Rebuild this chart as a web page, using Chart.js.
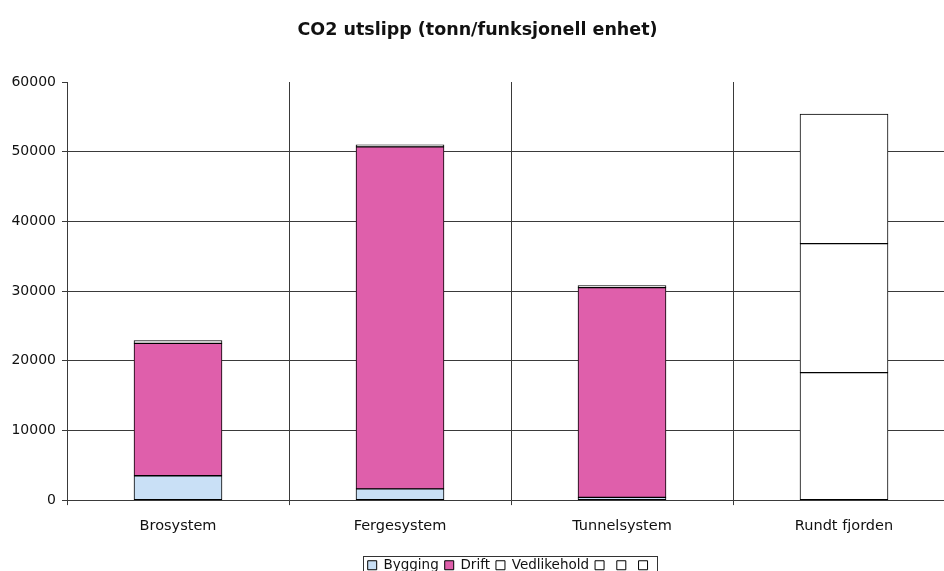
<!DOCTYPE html>
<html>
<head>
<meta charset="utf-8">
<script src="https://cdn.jsdelivr.net/npm/chart.js@4/dist/chart.umd.min.js"></script>
<style>
  html, body { margin: 0; padding: 0; background: #fff; overflow: hidden; width: 944px; height: 571px; }
  #wrap { position: absolute; left: 0; top: 0; width: 966px; height: 582px; }
</style>
</head>
<body>
<div id="wrap"><canvas id="c" width="966" height="582"></canvas></div>
<script>
// Categories and stacked series (tonn CO2 per funksjonell enhet)
const categories = ['Brosystem', 'Fergesystem', 'Tunnelsystem', 'Rundt fjorden'];
const bygging     = [3500, 1600, 400, null];
const drift       = [19000, 49100, 30100, null];
const vedlikehold = [400, 300, 300, null];
const rundt1      = [null, null, null, 18300];
const rundt2      = [null, null, null, 18500];
const rundt3      = [null, null, null, 18600];
const yTicks = [0, 10000, 20000, 30000, 40000, 50000, 60000];

const FONT = '"DejaVu Sans", "Liberation Sans", Arial, sans-serif';
const LINE = '#3a3a3a';

function series(label, data, fill) {
  return {
    label, data,
    backgroundColor: fill,
    borderColor: '#000',
    borderWidth: 1,
    borderSkipped: false,
    barThickness: 88
  };
}

// White page behind the chart, and a frame around the legend
const whiteBg = {
  id: 'whiteBg',
  beforeDraw(chart) {
    const c = chart.ctx;
    c.save();
    c.fillStyle = '#fff';
    c.fillRect(0, 0, chart.width, chart.height);
    c.restore();
  }
};
const legendFrame = {
  id: 'legendFrame',
  afterDraw(chart) {
    const lg = chart.legend;
    if (!lg || !lg.legendHitBoxes || !lg.legendHitBoxes.length) return;
    const boxes = lg.legendHitBoxes;
    let x0 = Infinity, x1 = -Infinity, y0 = Infinity, y1 = -Infinity;
    boxes.forEach(b => {
      x0 = Math.min(x0, b.left); x1 = Math.max(x1, b.left + b.width);
      y0 = Math.min(y0, b.top); y1 = Math.max(y1, b.top + b.height);
    });
    const c = chart.ctx;
    c.save();
    c.strokeStyle = '#333';
    c.lineWidth = 1;
    c.strokeRect(Math.round(x0 - 5) + 0.5, Math.round(y0 - 3) + 0.5, Math.round(x1 - x0 + 7), Math.round(y1 - y0 + 8));
    c.restore();
  }
};

new Chart(document.getElementById('c'), {
  type: 'bar',
  data: {
    labels: categories,
    datasets: [
      series('Bygging', bygging, '#c9e0f6'),
      series('Drift', drift, '#df5fab'),
      series('Vedlikehold', vedlikehold, '#ffffff'),
      series('', rundt1, '#ffffff'),
      series('', rundt2, '#ffffff'),
      series('', rundt3, '#ffffff')
    ]
  },
  options: {
    responsive: false,
    animation: false,
    devicePixelRatio: 1,
    layout: { padding: { left: 0, right: 11, top: 0, bottom: 0 } },
    plugins: {
      title: {
        display: true,
        text: 'CO2 utslipp (tonn/funksjonell enhet)',
        color: '#111',
        font: { family: FONT, size: 17.5, weight: 'bold' },
        padding: { top: 20, bottom: 41 }
      },
      legend: {
        display: true,
        position: 'bottom',
        fullSize: false,
        labels: {
          color: '#111',
          font: { family: FONT, size: 13.5 },
          boxWidth: 9,
          boxHeight: 9,
          padding: 6
        }
      },
      tooltip: { enabled: false }
    },
    scales: {
      x: {
        stacked: true,
        offset: true,
        afterFit(scale) { scale.height += 6; },
        border: { display: true, color: LINE, width: 1 },
        grid: { display: true, offset: true, color: LINE, lineWidth: 1, tickLength: 5, drawTicks: true },
        ticks: { color: '#111', font: { family: FONT, size: 14.5 }, padding: 12, maxRotation: 0 }
      },
      y: {
        stacked: true,
        min: 0,
        max: 60000,
        afterFit(scale) { scale.width = 67; },
        afterBuildTicks(scale) { scale.ticks = yTicks.map(v => ({ value: v })); },
        border: { display: true, color: LINE, width: 1 },
        grid: {
          color: ctx => (ctx.tick && ctx.tick.value === 60000) ? 'rgba(0,0,0,0)' : LINE,
          tickColor: LINE,
          lineWidth: 1,
          tickLength: 5
        },
        ticks: {
          color: '#111',
          font: { family: FONT, size: 14 },
          padding: 6,
          callback: v => String(v)
        }
      }
    }
  },
  plugins: [whiteBg, legendFrame]
});
</script>
</body>
</html>
